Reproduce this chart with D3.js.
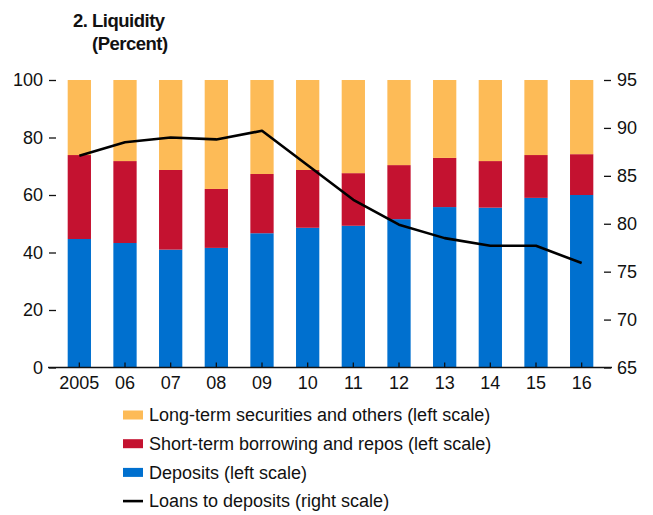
<!DOCTYPE html>
<html>
<head>
<meta charset="utf-8">
<script src="https://cdn.jsdelivr.net/npm/d3@7"></script>
<style>
  html, body { margin: 0; padding: 0; background: #fff; }
  svg text { font-family: "Liberation Sans", Arial, sans-serif; fill: #111; }
</style>
</head>
<body>
<svg id="chart" width="653" height="515"></svg>
<script>
// ---- Data ----
const years = ["2005", "06", "07", "08", "09", "10", "11", "12", "13", "14", "15", "16"];
const deposits = [44.7, 43.3, 41.0, 41.6, 46.7, 48.6, 49.3, 51.6, 55.8, 55.6, 59.0, 60.0];
const shortTerm = [29.2, 28.5, 27.7, 20.5, 20.6, 20.1, 18.3, 18.8, 17.1, 16.2, 14.9, 14.2];
const longTerm = [26.1, 28.2, 31.3, 37.9, 32.7, 31.3, 32.4, 29.6, 27.1, 28.2, 26.1, 25.8];
const loansToDeposits = [87.1, 88.5, 89.0, 88.8, 89.7, 86.1, 82.5, 79.9, 78.5, 77.7, 77.7, 75.9];
const leftTicks = [0, 20, 40, 60, 80, 100];
const rightTicks = [65, 70, 75, 80, 85, 90, 95];
const seriesNames = ["Long-term securities and others (left scale)", "Short-term borrowing and repos (left scale)", "Deposits (left scale)", "Loans to deposits (right scale)"];
const colors = { long: "#FDBB57", short: "#C41230", dep: "#0070CF", line: "#000" };

const svg = d3.select("#chart");

const x = d3.scaleBand().domain(years).range([56.5, 604.5]).paddingInner(0.49).paddingOuter(0.245);
const yL = d3.scaleLinear().domain([0, 100]).range([367.5, 80]);
const yR = d3.scaleLinear().domain([65, 95]).range([367.5, 80]);

// stacked data
const rows = years.map((yr, i) => ({ year: yr, dep: deposits[i], short: shortTerm[i], long: longTerm[i] }));
const stack = d3.stack().keys(["dep", "short", "long"])(rows);

svg.append("g").selectAll("g").data(stack).join("g")
  .attr("fill", d => colors[d.key])
  .selectAll("rect").data(d => d).join("rect")
  .attr("x", d => x(d.data.year))
  .attr("width", x.bandwidth())
  .attr("y", d => yL(Math.min(d[1], 100)))
  .attr("height", d => yL(d[0]) - yL(Math.min(d[1], 100)));

// Left axis
const gL = svg.append("g").attr("transform", "translate(56,0)")
  .call(d3.axisLeft(yL).tickValues(leftTicks).tickSize(7).tickPadding(6));
gL.select(".domain").remove();
gL.selectAll(".tick line").attr("stroke", "#111").attr("stroke-width", 1.3);
gL.selectAll("text").style("font-size", "18px").attr("fill", "#111");

// Right axis
const gR = svg.append("g").attr("transform", "translate(604,0)")
  .call(d3.axisRight(yR).tickValues(rightTicks).tickSize(7).tickPadding(6));
gR.select(".domain").remove();
gR.selectAll(".tick line").attr("stroke", "#111").attr("stroke-width", 1.3);
gR.selectAll("text").style("font-size", "18px").attr("fill", "#111");

// Bottom axis
const gB = svg.append("g").attr("transform", "translate(0,367.5)")
  .call(d3.axisBottom(x).tickSize(-5).tickPadding(9));
gB.select(".domain").remove();
gB.selectAll(".tick line").attr("stroke", "#111").attr("stroke-width", 1.3);
gB.selectAll("text").style("font-size", "18px").attr("fill", "#111").attr("dy", "0.71em");
svg.append("line").attr("x1", 48).attr("x2", 612).attr("y1", 367.5).attr("y2", 367.5)
  .attr("stroke", "#111").attr("stroke-width", 1.5);

// Line
const line = d3.line().x((d, i) => x(years[i]) + x.bandwidth() / 2).y(d => yR(d));
svg.append("path").datum(loansToDeposits).attr("d", line)
  .attr("fill", "none").attr("stroke", colors.line).attr("stroke-width", 2.6)
  .attr("stroke-linejoin", "round");

// Title
svg.append("text").attr("x", 73).attr("y", 27).text("2. Liquidity")
  .style("font-size", "18.5px").style("font-weight", "bold").style("letter-spacing", "-0.5px");
svg.append("text").attr("x", 92).attr("y", 50).text("(Percent)")
  .style("font-size", "18.5px").style("font-weight", "bold").style("letter-spacing", "-0.5px");

// Legend
const legColors = [colors.long, colors.short, colors.dep];
const lg = svg.append("g");
seriesNames.forEach((name, i) => {
  const cy = 415 + i * 28.7;
  if (i < 3) {
    lg.append("rect").attr("x", 123).attr("y", cy - 4.5).attr("width", 20).attr("height", 9).attr("fill", legColors[i]);
  } else {
    lg.append("line").attr("x1", 123).attr("x2", 143).attr("y1", cy).attr("y2", cy).attr("stroke", "#000").attr("stroke-width", 2.6);
  }
  lg.append("text").attr("x", 149).attr("y", cy).attr("dy", "0.35em").text(name).style("font-size", "18px");
});
</script>
</body>
</html>
